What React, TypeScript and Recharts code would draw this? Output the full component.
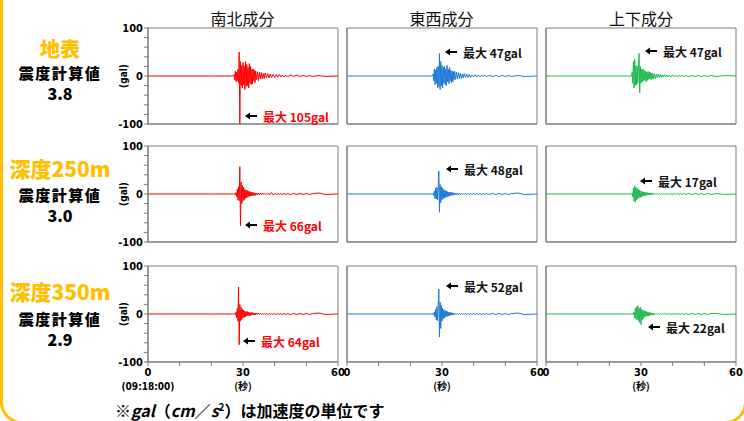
import React from 'react';
import { LineChart, Line, XAxis, YAxis, ReferenceArea } from 'recharts';

// sample times (s after 09:18:00)
const TIME = [
  0, 20,
  27.0, 27.2, 27.4, 27.6, 27.8, 28.0, 28.2, 28.4, 28.6, 28.8,
  29.0, 29.2, 29.4, 29.6, 29.8, 30.0, 30.2, 30.4, 30.6, 30.8,
  31.0, 31.2, 31.4, 31.6, 31.8, 32.0, 32.2, 32.4, 32.6, 32.8,
  33.0, 33.2, 33.4, 33.6, 33.8, 34.0,
  34.3, 34.6, 34.9, 35.2, 35.5, 35.8, 36.1, 36.4, 36.7, 37.0,
  37.4, 37.8, 38.2, 38.6, 39.0,
  39.5, 40.0, 40.5, 41.0, 41.5, 42.0, 42.5, 43.0, 43.5, 44.0,
  45, 46, 47, 48, 49, 50, 51, 52,
  54, 56, 60,
];

// acceleration (gal) — surface
const NS_SURFACE = [
  0, 0,
  0, 3, -8, 10, -12, 8, -10, 14, -15, 50,
  -105, 30, -20, 22, -25, 28, -18, 20, -28, 30,
  -22, 24, -20, 18, -25, 26, -15, 20, -18, 14,
  -16, 15, -10, 12, -14, 10,
  -8, 9, -10, 8, -6, 7, -6, 5, -5, 6,
  -4, 5, -4, 4, -3,
  3, -3, 3, -2, 3, -2, 2, -2, 2, -2,
  2, -1, 2, -1, 1, -1, 1, -1,
  1, -1, 0,
];
const EW_SURFACE = [
  0, 0,
  0, 4, -10, 15, -18, 12, -15, 18, -25, 20,
  -22, 47, -28, 30, -20, 22, -25, 18, -15, 20,
  -18, 15, -20, 22, -12, 14, -16, 18, -10, 12,
  -14, 10, -12, 9, -8, 10,
  -7, 8, -6, 7, -5, 6, -5, 4, -4, 5,
  -3, 4, -3, 3, -3,
  2, -2, 3, -2, 2, -2, 2, -1, 2, -1,
  1, -1, 1, -1, 1, -1, 1, -1,
  1, -1, 0,
];
const UD_SURFACE = [
  0, 0,
  0, 8, -15, 30, -25, 35, -20, 22, -18, 20,
  -15, 18, 47, -35, 20, -15, 14, -12, 15, -10,
  12, -9, 10, -12, 8, -9, 10, -7, 8, -6,
  7, -8, 6, -5, 5, -6,
  4, -5, 4, -3, 4, -3, 3, -3, 2, -2,
  3, -2, 2, -2, 2,
  -2, 2, -1, 1, -1, 1, -1, 1, -1, 1,
  -1, 1, -1, 1, -1, 1, -1, 1,
  -1, 1, 0,
];

// depth 250m
const NS_250 = [
  0, 0,
  0, 0, 1, -2, 3, -5, 10, -12, 15, -14,
  57, -66, 25, -20, 18, -15, 14, -12, 10, -9,
  8, -8, 7, -6, 6, -5, 5, -4, 4, -4,
  3, -3, 3, -3, 2, -3,
  2, -2, 2, -2, 2, -1, 2, -1, 1, -1,
  1, -1, 1, -1, 3,
  -2, 1, -1, 1, -1, 1, -1, 1, -1, 1,
  -1, 1, -1, 1, -1, 1, -1, 1,
  2, -1, 0,
];
const EW_250 = [
  0, 0,
  0, 1, -3, 6, -10, 12, -10, 14, -12, 15,
  48, -38, 20, -18, 15, -12, 12, -10, 9, -8,
  8, -7, 6, -6, 5, -5, 4, -4, 4, -3,
  3, -3, 3, -2, 2, -2,
  2, -2, 2, -1, 2, -1, 1, -1, 1, -1,
  1, -1, 1, -1, 1,
  -1, 1, -1, 1, -1, 1, -1, 1, -1, 1,
  -1, 1, -1, 1, -1, 1, -1, 1,
  2, -1, 0,
];
const UD_250 = [
  0, 0,
  0, 2, -6, 12, -15, 17, -17, 14, -12, 12,
  -10, 9, -8, 8, -7, 6, -6, 5, -5, 4,
  -4, 4, -3, 3, -3, 3, -2, 2, -2, 2,
  -2, 2, -1, 2, -1, 1,
  -1, 1, -1, 1, -1, 1, -1, 1, -1, 1,
  -1, 1, -1, 1, -1,
  1, -1, 1, -1, 1, -1, 1, -1, 1, -1,
  1, -1, 1, -1, 1, -1, 1, -1,
  1, -1, 0,
];

// depth 350m
const NS_350 = [
  0, 0,
  0, 0, 1, -2, 4, -8, 12, -15, 56, -64,
  20, -15, 14, -12, 10, -8, 8, -7, 6, -6,
  5, -4, 5, -4, 4, -3, 3, -3, 3, -2,
  3, -2, 2, -2, 2, -2,
  2, -1, 2, -1, 1, -1, 1, -1, 1, -1,
  1, -1, 1, -1, 1,
  -1, 1, -1, 1, -1, 1, -1, 1, -1, 1,
  -1, 1, -1, 1, -1, 1, -1, 1,
  2, -1, 0,
];
const EW_350 = [
  0, 0,
  0, 1, -2, 4, -6, 10, -12, 15, -14, 20,
  52, -48, 25, -30, 18, -15, 12, -10, 9, -8,
  7, -6, 6, -5, 5, -4, 4, -3, 3, -3,
  3, -2, 2, -2, 2, -1,
  1, -1, 1, -1, 1, -1, 1, -1, 1, -1,
  1, -1, 1, -1, 1,
  -1, 1, -1, 1, -1, 1, -1, 1, -1, 1,
  -1, 1, -1, 1, -1, 1, -1, 1,
  2, -1, 0,
];
const UD_350 = [
  0, 0,
  0, 0, 1, -2, 4, -8, 12, -10, 15, -12,
  17, -14, 12, -18, 14, -22, 10, -12, 8, -9,
  7, -6, 6, -5, 5, -4, 4, -4, 3, -3,
  3, -2, 2, -2, 2, -2,
  1, -1, 1, -1, 1, -1, 1, -1, 1, -1,
  1, -1, 1, -1, 1,
  -1, 1, -1, 1, -1, 1, -1, 1, -1, 1,
  -1, 1, -1, 1, -1, 1, -1, 1,
  1, -1, 0,
];

const COMPONENT_TITLES = ['南北成分', '東西成分', '上下成分'];
const SITE_NAMES = ['地表', '深度250m', '深度350m'];
const INTENSITIES = ['3.8', '3.0', '2.9'];
const PEAK_TEXT = [
  ['最大 105gal', '最大 47gal', '最大 47gal'],
  ['最大 66gal', '最大 48gal', '最大 17gal'],
  ['最大 64gal', '最大 52gal', '最大 22gal'],
];
const Y_TICKS = [-100, -80, -60, -40, -20, 0, 20, 40, 60, 80, 100];
const Y_LABELS = [-100, 0, 100];
const X_TICKS = [0, 10, 20, 30, 40, 50, 60];
const X_LABELS = [0, 30, 60];

const WAVES = [
  [NS_SURFACE, EW_SURFACE, UD_SURFACE],
  [NS_250, EW_250, UD_250],
  [NS_350, EW_350, UD_350],
];
const COLORS = ['#ff0000', '#1a78d6', '#1dbb4e'];
const ORANGE = '#ffc000';
const AXIS_GRAY = '#7a7a7a';
const CJK = "'Noto Sans CJK JP', sans-serif";
const NUM = "'DejaVu Sans Condensed', 'DejaVu Sans', sans-serif";

// layout, page px
const COL_X = [147.5, 346.5, 546];
const ROW_Y = [28, 146, 266];
const PLOT_W = 190;
const PLOT_H = 96;
const AXIS_W = 40;
const TOP = 10;
const RIGHT = 8;
const BOTTOM = 34;
const PEAK_POS = [
  [[245, 116], [445, 52], [645, 51]],
  [[245, 225], [446, 169], [640, 181]],
  [[243, 341], [446, 286], [648, 327]],
];
const SITE_Y = [[48.5, 73, 93], [168, 195, 215], [291, 319, 339]];

function XTick(props: any) {
  const { x, y, payload, col } = props;
  const v = payload.value;
  const st = { fontFamily: NUM, fontSize: 11, fontWeight: 700, fill: '#000' };
  return (
    <g>
      {X_LABELS.includes(v) && (
        <text x={x} y={y} dy={8} textAnchor="middle" {...st}>{v}</text>
      )}
      {v === 0 && col === 0 && (
        <text x={x} y={y} dy={22} textAnchor="middle" {...st} fontSize={10}>(09:18:00)</text>
      )}
      {v === 30 && (
        <text x={x} y={y} dy={22} textAnchor="middle" {...st} fontSize={10} fontFamily={CJK}>(秒)</text>
      )}
    </g>
  );
}

function Panel({ row, col }: { row: number; col: number }) {
  const values = WAVES[row][col];
  const data = TIME.map((t, i) => ({ t, v: values[i] }));
  const bottom = row === 2;
  return (
    <div style={{ position: 'absolute', left: COL_X[col] - AXIS_W, top: ROW_Y[row] - TOP }}>
      <LineChart
        width={AXIS_W + PLOT_W + RIGHT}
        height={TOP + PLOT_H + BOTTOM}
        data={data}
        margin={{ top: TOP, right: RIGHT, bottom: 0, left: 0 }}
      >
        <XAxis
          dataKey="t"
          type="number"
          domain={[0, 60]}
          ticks={X_TICKS}
          interval={0}
          height={BOTTOM}
          tickSize={4}
          tickMargin={2}
          stroke={AXIS_GRAY}
          allowDataOverflow
          tick={bottom ? (p: any) => <XTick {...p} col={col} /> : false}
        />
        <YAxis
          type="number"
          domain={[-100, 100]}
          ticks={Y_TICKS}
          interval={0}
          width={AXIS_W}
          tickSize={4}
          tickMargin={1}
          stroke={AXIS_GRAY}
          allowDataOverflow
          tick={col === 0 ? { fill: '#000', fontSize: 11, fontWeight: 700, fontFamily: NUM } : false}
          tickFormatter={(v: number) => (Y_LABELS.includes(v) ? String(v) : '')}
        />
        <ReferenceArea x1={0} x2={60} y1={-100} y2={100} fill="none" stroke={AXIS_GRAY} />
        <Line
          dataKey="v"
          type="linear"
          stroke={COLORS[col]}
          strokeWidth={1}
          dot={false}
          isAnimationActive={false}
        />
      </LineChart>
    </div>
  );
}

function PeakLabel({ row, col }: { row: number; col: number }) {
  const [x, y] = PEAK_POS[row][col];
  return (
    <div
      style={{
        position: 'absolute', left: x, top: y - 9, height: 18,
        display: 'flex', alignItems: 'center', whiteSpace: 'nowrap',
      }}
    >
      <svg width={12} height={8}>
        <polygon points="0,4 5,0.5 5,7.5" fill="#000" />
        <rect x={4} y={3} width={8} height={2} fill="#000" />
      </svg>
      <span
        style={{
          marginLeft: 6, fontFamily: CJK, fontSize: 12, fontWeight: 700,
          color: col === 0 ? '#ff0000' : '#111',
        }}
      >
        {PEAK_TEXT[row][col]}
      </span>
    </div>
  );
}

function SiteLabel({ row }: { row: number }) {
  const centers = SITE_Y[row];
  const base: React.CSSProperties = {
    position: 'absolute', left: 0, width: 120, textAlign: 'center',
    fontFamily: CJK, fontWeight: 900, lineHeight: '18px', height: 18,
  };
  return (
    <>
      <div style={{ ...base, top: centers[0] - 9, fontSize: row === 0 ? 20 : 21, color: ORANGE }}>
        {SITE_NAMES[row]}
      </div>
      <div style={{ ...base, top: centers[1] - 9, fontSize: 15, letterSpacing: 1.5, color: '#000' }}>
        震度計算値
      </div>
      <div style={{ ...base, top: centers[2] - 9, fontSize: 16, color: '#000' }}>{INTENSITIES[row]}</div>
    </>
  );
}

export default function App() {
  const rows = [0, 1, 2];
  const cols = [0, 1, 2];
  const zeroY = ROW_Y.map((y) => y + PLOT_H / 2);
  return (
    <div
      style={{
        position: 'absolute', left: 0, top: 0, width: 744, height: 421,
        overflow: 'hidden', background: '#fff',
      }}
    >
      <div
        style={{
          position: 'absolute', left: 0, top: -40, width: 747, height: 464,
          boxSizing: 'border-box', border: `3px solid ${ORANGE}`, borderRadius: 22,
        }}
      />
      {cols.map((c) => (
        <div
          key={`t${c}`}
          style={{
            position: 'absolute', left: COL_X[c], width: PLOT_W, top: 8, height: 20,
            textAlign: 'center', fontFamily: CJK, fontSize: 16, lineHeight: '20px', color: '#111',
          }}
        >
          {COMPONENT_TITLES[c]}
        </div>
      ))}
      {rows.map((r) => <SiteLabel key={`s${r}`} row={r} />)}
      {rows.map((r) => (
        <div
          key={`g${r}`}
          style={{
            position: 'absolute', left: 123, top: zeroY[r], fontFamily: NUM, fontSize: 10,
            fontWeight: 700, transform: 'translate(-50%, -50%) rotate(-90deg)', whiteSpace: 'nowrap',
          }}
        >
          (gal)
        </div>
      ))}
      {rows.map((r) => cols.map((c) => <Panel key={`p${r}${c}`} row={r} col={c} />))}
      {rows.map((r) => cols.map((c) => <PeakLabel key={`k${r}${c}`} row={r} col={c} />))}
      <div
        style={{
          position: 'absolute', left: 115, top: 401, height: 18, fontFamily: CJK, fontSize: 16,
          fontWeight: 700, lineHeight: '18px', whiteSpace: 'nowrap', color: '#000',
        }}
      >
        ※<i>gal</i>（<i>cm</i>／<i>s</i>
        <span style={{ fontSize: 10, position: 'relative', top: -6 }}>2</span>）は加速度の単位です
      </div>
    </div>
  );
}
